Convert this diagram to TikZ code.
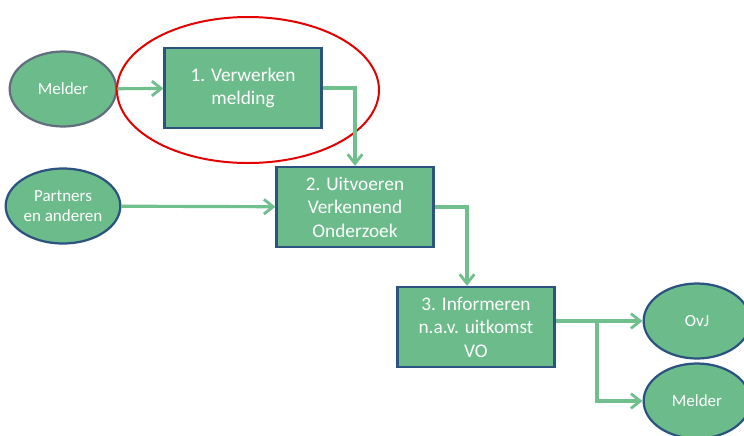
\documentclass[tikz,border=0pt]{standalone}
\usepackage{fontspec}
\setmainfont{Carlito}
\usetikzlibrary{arrows.meta,positioning,calc,shapes.geometric}
\definecolor{vofill}{RGB}{107,187,139}
\definecolor{voline}{RGB}{112,192,142}
\definecolor{voblue}{RGB}{44,82,128}
\definecolor{vogrey}{RGB}{98,110,128}
\tikzset{
  stepbox/.style={
    draw=voblue,
    line width=2pt,
    fill=vofill,
    minimum width=4.7cm,
    minimum height=2.4cm,
    align=center,
    inner sep=2pt,
    text=white,
    font=\fontsize{16.5}{20}\selectfont
  },
  actor/.style={
    ellipse,
    draw=voblue,
    line width=1.9pt,
    fill=vofill,
    minimum width=3.2cm,
    minimum height=2.25cm,
    align=center,
    inner sep=1pt,
    text=white,
    font=\fontsize{14.5}{17}\selectfont
  },
  flow/.style={-{Straight Barb[length=2.8mm, width=4.4mm, line width=2.4pt]}, draw=voline, line width=2.7pt},
  focus/.style={draw=red!90!black, line width=1.7pt}
}

\begin{document}
\begin{tikzpicture}[x=0.03cm, y=-0.03cm]
  \useasboundingbox (0,0) rectangle (744,435);
  \node[actor, draw=vogrey] (melderA) at (63,89) {Melder};
  \node[actor] (partners) at (63,206) {Partners\\en anderen};
  \node[stepbox] (verwerk) at (243,88) {1. Verwerken\\melding};
  \node[stepbox] (uitvoer) at (355,207) {2. Uitvoeren\\Verkennend\\Onderzoek};
  \node[stepbox] (inform) at (476,327) {3. Informeren\\n.a.v. uitkomst\\VO};
  \node[actor] (ovj) at (697,321) {OvJ};
  \node[actor] (melderB) at (697,401) {Melder};
  \coordinate (split) at (597,321);
  % red focus ring round step 1
  \draw[focus] (248,90) ellipse [x radius=131, y radius=73];
  \draw[flow] (melderA) -- (verwerk);
  \draw[flow] (verwerk.east) -| (uitvoer.north);
  \draw[flow] (partners) -- (uitvoer);
  \draw[flow] (uitvoer.east) -| ([xshift=-0.27cm]inform.north);
  \draw[flow] (inform.east |- ovj.west) -- (ovj.west);
  \draw[flow] (split) |- (melderB.west);
\end{tikzpicture}
\end{document}
